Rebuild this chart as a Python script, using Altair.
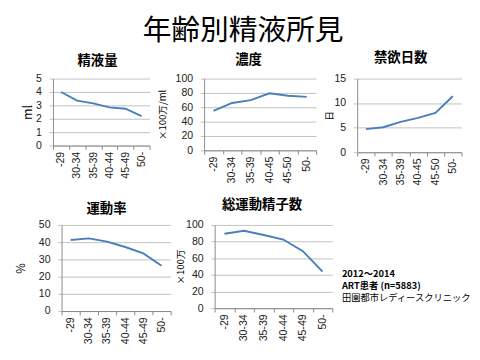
import altair as alt
import pandas as pd

# ---- data -------------------------------------------------------------
main_title = "年齢別精液所見"
ages_a = ["-29", "30-34", "35-39", "40-44", "45-49", "50-"]
ages_b = ["-29", "30-34", "35-39", "40-45", "45-50", "50-"]

volume = [4.0, 3.35, 3.15, 2.85, 2.75, 2.2]            # 精液量 (ml)
concentration = [55, 66, 70, 79.5, 76, 74.5]          # 濃度 (×100万/ml)
abstinence = [4.7, 5.1, 6.2, 7.0, 8.0, 11.4]          # 禁欲日数 (日)
motility = [41.3, 42.2, 40.3, 37.2, 33.5, 26.3]       # 運動率 (%)
total_motile = [89.5, 93, 88, 82.5, 68.5, 44]         # 総運動精子数 (×100万)

ticks_volume = [0, 1, 2, 3, 4, 5]
ticks_conc = [0, 20, 40, 60, 80, 100]
ticks_abst = [0, 5, 10, 15]
ticks_mot = [0, 10, 20, 30, 40, 50]
ticks_total = [0, 20, 40, 60, 80, 100]

note_lines = ["2012～2014", "ART患者  (n=5883)", "田園都市レディースクリニック"]
note_weights = ["bold", "bold", "normal"]

# ---- style ------------------------------------------------------------
LINE = "#4A7EBB"
GRID = "#BFBFBF"
AXIS = "#868686"
CJK = "Noto Sans CJK JP"
LAT = "Liberation Sans"


def panel(cats, vals, title, ytitle, yticks, w, h, title_dx, title_offset,
          ytitle_size, ytitle_pad):
    df = pd.DataFrame({"age": cats, "value": vals})
    return (
        alt.Chart(
            df,
            title=alt.TitleParams(
                title, font=CJK, fontSize=14, fontWeight="bold", color="#000000",
                dx=title_dx, offset=title_offset, frame="group", anchor="middle",
            ),
        )
        .mark_line(color=LINE, strokeWidth=2)
        .encode(
            x=alt.X(
                "age:N", sort=cats, bandPosition=0.5,
                scale=alt.Scale(type="band", paddingInner=0, paddingOuter=0),
                axis=alt.Axis(
                    title=None, labelAngle=270, tickBand="extent", grid=False,
                    domainColor=AXIS, tickColor=AXIS, tickSize=4, labelPadding=2,
                    labelFont=LAT, labelFontSize=11, labelColor="#222222",
                ),
            ),
            y=alt.Y(
                "value:Q",
                scale=alt.Scale(domain=[yticks[0], yticks[-1]], nice=False),
                axis=alt.Axis(
                    values=yticks, title=ytitle, titleAngle=270, titleFont=CJK,
                    titleFontSize=ytitle_size, titleFontWeight="normal",
                    titleColor="#000000", titlePadding=ytitle_pad,
                    labelFont=LAT, labelFontSize=11, labelColor="#222222",
                    labelPadding=8, tickSize=4, tickColor=GRID,
                    domainColor=AXIS, gridColor=GRID,
                ),
            ),
        )
        .properties(width=w, height=h)
    )


p1 = panel(ages_a, volume, "精液量", "ml", ticks_volume, 101, 70, -4, 5, 13, 1)
p2 = panel(ages_b, concentration, "濃度", "×100万/ml", ticks_conc, 117, 75, -12, 6, 10, 8)
p3 = panel(ages_b, abstinence, "禁欲日数", "日", ticks_abst, 109, 77, -9, 8, 10, 0)
p4 = panel(ages_a, motility, "運動率", "%", ticks_mot, 114, 90, -10, 4, 12, 12)
p5 = panel(ages_a, total_motile, "総運動精子数", "×100万", ticks_total, 123, 87, -12, 8, 10, 0)

# invisible spacer used only to shift the lower-left panel's plot area
spacer = (
    alt.Chart(pd.DataFrame({"s": [0]}))
    .mark_point(opacity=0, size=1)
    .encode(x=alt.value(0), y=alt.value(0))
    .properties(width=1, height=1)
)

note_df = pd.DataFrame({"line": note_lines, "weight": note_weights})
note_base = alt.Chart(note_df).encode(
    x=alt.value(5),
    y=alt.Y("line:N", sort=note_lines, axis=None,
            scale=alt.Scale(type="point", padding=0.5)),
    text="line:N",
)
note = alt.layer(
    note_base.transform_filter(alt.datum.weight == "bold").mark_text(
        align="left", baseline="middle", font=CJK, fontSize=9.7,
        fontWeight="bold", color="#000000", dy=44.6),
    note_base.transform_filter(alt.datum.weight == "normal").mark_text(
        align="left", baseline="middle", font=CJK, fontSize=9.7,
        fontWeight="normal", color="#000000", dy=44.6),
).properties(width=20, height=38.4)

row1 = alt.hconcat(p1, p2, p3, spacing=7)
row2 = alt.hconcat(alt.hconcat(spacer, p4, spacing=-42), p5, note, spacing=4)

chart = (
    alt.vconcat(row1, row2, spacing=13)
    .properties(
        title=alt.TitleParams(main_title, font=CJK, fontSize=30, fontWeight="normal",
                              color="#000000", anchor="middle", offset=6),
        padding={"left": 6, "top": 2, "right": 0, "bottom": 0},
        background="#FFFFFF",
    )
    .configure_view(stroke=None)
)

chart.save("out.html", embed_options={"renderer": "svg", "actions": False})
